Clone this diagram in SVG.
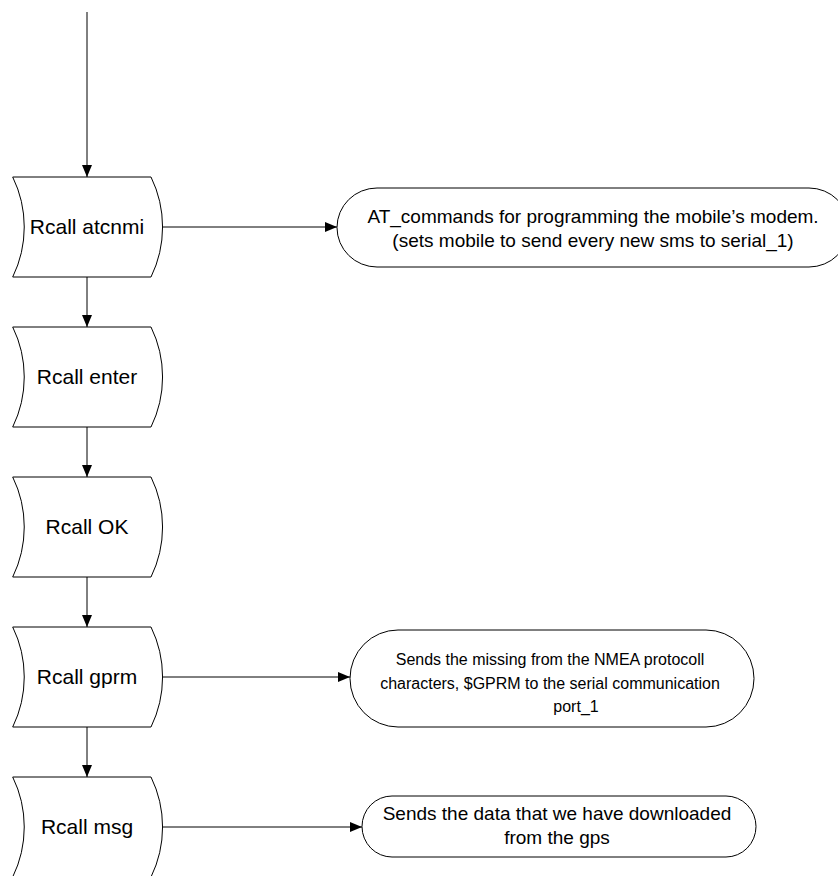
<svg xmlns="http://www.w3.org/2000/svg" width="838" height="876" viewBox="0 0 838 876">
<style>
.shape{fill:#fff;stroke:#000;stroke-width:1}
.conn{fill:none;stroke:#000;stroke-width:1}
.t{font-family:"Liberation Sans",Arial,sans-serif;fill:#000;text-anchor:middle}
.n{font-size:21px}
.c19{font-size:19px}
.c16{font-size:16px}
</style>
<defs>
<marker id="ah" markerUnits="userSpaceOnUse" markerWidth="13" markerHeight="11" refX="12" refY="5" orient="auto">
<path d="M0,0 L12,5 L0,10 z" fill="#000"/>
</marker>
</defs>
<rect width="838" height="876" fill="#fff"/>
<g id="connectors">
<line class="conn" x1="87" y1="12" x2="87" y2="177" marker-end="url(#ah)"/>
<line class="conn" x1="87" y1="277" x2="87" y2="327" marker-end="url(#ah)"/>
<line class="conn" x1="87" y1="427" x2="87" y2="477" marker-end="url(#ah)"/>
<line class="conn" x1="87" y1="577" x2="87" y2="627" marker-end="url(#ah)"/>
<line class="conn" x1="87" y1="727" x2="87" y2="777" marker-end="url(#ah)"/>
<line class="conn" x1="162" y1="227" x2="337" y2="227" marker-end="url(#ah)"/>
<line class="conn" x1="162" y1="677" x2="350" y2="677" marker-end="url(#ah)"/>
<line class="conn" x1="162" y1="827" x2="362" y2="827" marker-end="url(#ah)"/>
</g>
<g id="node-atcnmi">
<path class="shape" d="M12.7,177 L151,177 A114,114 0 0 1 151,277 L12.7,277 A114,114 0 0 0 12.7,177 z"/>
<text class="t n" x="87" y="234">Rcall atcnmi</text>
</g>
<g id="node-enter">
<path class="shape" d="M12.7,327 L151,327 A114,114 0 0 1 151,427 L12.7,427 A114,114 0 0 0 12.7,327 z"/>
<text class="t n" x="87" y="384">Rcall enter</text>
</g>
<g id="node-ok">
<path class="shape" d="M12.7,477 L151,477 A114,114 0 0 1 151,577 L12.7,577 A114,114 0 0 0 12.7,477 z"/>
<text class="t n" x="87" y="534">Rcall OK</text>
</g>
<g id="node-gprm">
<path class="shape" d="M12.7,627 L151,627 A114,114 0 0 1 151,727 L12.7,727 A114,114 0 0 0 12.7,627 z"/>
<text class="t n" x="87" y="684">Rcall gprm</text>
</g>
<g id="node-msg">
<path class="shape" d="M12.7,777 L151,777 A114,114 0 0 1 151,877 L12.7,877 A114,114 0 0 0 12.7,777 z"/>
<text class="t n" x="87" y="834">Rcall msg</text>
</g>
<g id="note-atcommands">
<rect class="shape" x="337" y="188" width="512" height="79" rx="40" ry="39.5"/>
<text class="t c19" x="593" y="223">AT_commands for programming the mobile’s modem.</text>
<text class="t c19" x="593" y="247">(sets mobile to send every new sms to serial_1)</text>
</g>
<g id="note-gprm">
<rect class="shape" x="350" y="630" width="404" height="97" rx="48" ry="48.5"/>
<text class="t c16" x="550" y="665">Sends the missing from the NMEA protocoll</text>
<text class="t c16" x="550" y="689">characters, $GPRM to the serial communication</text>
<text class="t c16" x="576" y="712">port_1</text>
</g>
<g id="note-msg">
<rect class="shape" x="362" y="796" width="394" height="61" rx="30" ry="30.5"/>
<text class="t c19" x="557" y="820">Sends the data that we have downloaded</text>
<text class="t c19" x="557" y="844">from the gps</text>
</g>
</svg>
